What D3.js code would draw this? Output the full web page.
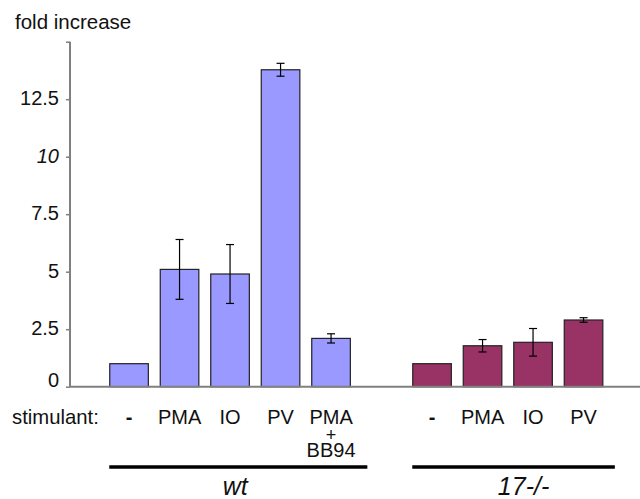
<!DOCTYPE html>
<html><head><meta charset="utf-8">
<script src="https://cdn.jsdelivr.net/npm/d3@7"></script>
<style>
html,body{margin:0;padding:0;background:#fff;}
svg{display:block;font-family:Arial,"Liberation Sans",sans-serif;}
</style></head>
<body><svg id="c" width="640" height="499"></svg>
<script>
// ---- data ----
const wtCategories = ["-", "PMA", "IO", "PV", "PMA+BB94"];
const wtValues = [1.0, 5.1, 4.9, 13.78, 2.1];
const wtErrors = [0, 1.3, 1.28, 0.28, 0.2];
const koCategories = ["-", "PMA", "IO", "PV"];
const koValues = [1.0, 1.78, 1.93, 2.9];
const koErrors = [0, 0.27, 0.6, 0.1];
const yTicks = [0, 2.5, 5, 7.5, 10, 12.5, 15];
const yTickLabels = ["0", "2.5", "5", "7.5", "10", "12.5", ""];
const groupLabels = ["wt", "17-/-"];
const colors = ["#9999FF", "#993366"];

// ---- build table ----
const rows = [];
wtCategories.forEach((c, i) => rows.push({slot: i, label: c, value: wtValues[i], err: wtErrors[i], group: 0}));
koCategories.forEach((c, i) => rows.push({slot: wtCategories.length + 1 + i, label: c, value: koValues[i], err: koErrors[i], group: 1}));
const nSlots = wtCategories.length + 1 + koCategories.length;

const svg = d3.select("#c");
const x = d3.scaleBand().domain(d3.range(nSlots)).range([103.8, 608.8]).paddingInner(0.236).paddingOuter(0.118);
const y = d3.scaleLinear().domain([0, 15]).range([386.7, 41.7]);

// bars
svg.append("g").selectAll("rect").data(rows).join("rect")
  .attr("x", d => x(d.slot)).attr("width", x.bandwidth())
  .attr("y", d => y(d.value)).attr("height", d => y(0) - y(d.value))
  .attr("fill", d => colors[d.group]).attr("stroke", "#222").attr("stroke-width", 1.2);

// error bars
const eb = svg.append("g").attr("stroke", "#000").attr("stroke-width", 1.2);
rows.filter(d => d.err > 0).forEach(d => {
  const cx = x(d.slot) + x.bandwidth() / 2;
  eb.append("line").attr("x1", cx).attr("x2", cx).attr("y1", y(d.value + d.err)).attr("y2", y(d.value - d.err));
  [d.value + d.err, d.value - d.err].forEach(v => {
    eb.append("line").attr("x1", cx - 4).attr("x2", cx + 4).attr("y1", y(v)).attr("y2", y(v));
  });
});

// y axis
const yAxis = d3.axisLeft(y).tickValues(yTicks).tickSize(4).tickFormat((d, i) => yTickLabels[i]);
const ga = svg.append("g").attr("transform", "translate(70,0)").call(yAxis);
ga.select(".domain").attr("stroke", "#808080").attr("stroke-width", 2).attr("d", `M0,${y(15)}V${y(0)}`);
ga.selectAll(".tick line").attr("stroke", "#808080").attr("stroke-width", 1.5);
ga.selectAll(".tick text").attr("x", -11).attr("dy", null)
  .attr("y", d => d === 0 ? 0 : 5.5)
  .attr("font-size", 20).attr("fill", "#111")
  .attr("font-family", "Arial, 'Liberation Sans', sans-serif")
  .attr("font-style", d => d === 10 ? "italic" : "normal");

// x baseline
svg.append("line").attr("x1", 70).attr("x2", 640).attr("y1", y(0)).attr("y2", y(0))
  .attr("stroke", "#808080").attr("stroke-width", 2);

// y title
svg.append("text").attr("x", 15).attr("y", 29).attr("font-size", 20.5).attr("fill", "#111").text("fold increase");

// category labels
svg.append("text").attr("x", 12).attr("y", 424.3).attr("font-size", 20.3).attr("fill", "#111").text("stimulant:");
const lab = svg.append("g").attr("font-size", 20).attr("fill", "#111").attr("text-anchor", "middle");
rows.forEach(d => {
  const cx = x(d.slot) + x.bandwidth() / 2;
  const parts = d.label.split("+");
  if (parts.length === 1) {
    lab.append("text").attr("x", cx).attr("y", 424.3)
      .attr("font-weight", d.label === "-" ? "bold" : null).text(d.label);
  } else {
    lab.append("text").attr("x", cx).attr("y", 424.3).text(parts[0]);
    lab.append("text").attr("x", cx).attr("y", 440.5).attr("font-size", 18).text("+");
    lab.append("text").attr("x", cx).attr("y", 457.3).text(parts[1]);
  }
});

// group lines and labels
const groups = [
  {first: 0, last: wtCategories.length - 1, extend: 17, label: groupLabels[0], shift: -3},
  {first: wtCategories.length + 1, last: nSlots - 1, extend: 12, label: groupLabels[1], shift: 10}
];
groups.forEach(g => {
  const x1 = x(g.first) - 0.5, x2 = x(g.last) + x.bandwidth() + g.extend;
  svg.append("line").attr("x1", x1).attr("x2", x2).attr("y1", 467).attr("y2", 467)
    .attr("stroke", "#000").attr("stroke-width", 3.5);
  svg.append("text").attr("x", (x1 + x2) / 2 + g.shift).attr("y", 495)
    .attr("text-anchor", "middle").attr("font-size", 25).attr("font-style", "italic").attr("fill", "#111")
    .text(g.label);
});
</script></body></html>
